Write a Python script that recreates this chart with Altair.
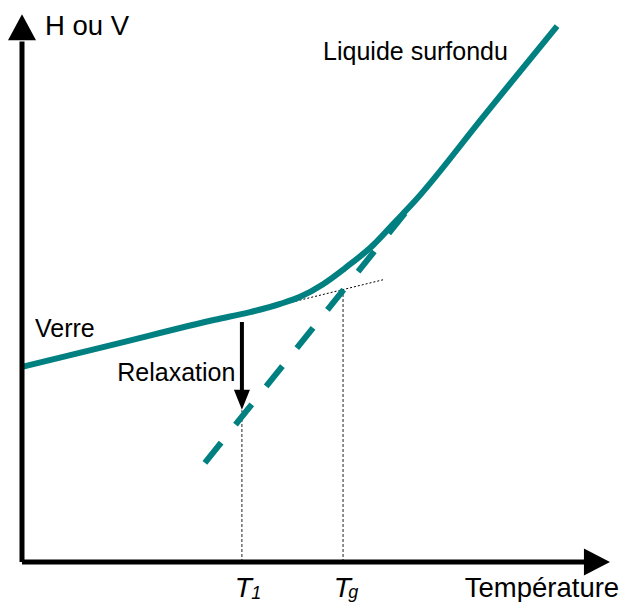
import altair as alt
import pandas as pd

# ---- data (T: temperature, H: enthalpy/volume, arbitrary units 0-100) ----
curve_T = [0.0, 16.4, 32.8, 38.8, 43.9, 47.3, 51.2, 54.9, 59.7, 63.4, 66.5, 78.7, 91.0]
curve_H = [35.6, 39.9, 44.2, 45.6, 47.1, 48.4, 50.7, 53.6, 57.8, 62.0, 65.5, 81.6, 97.8]

dash_T = [31.1, 66.5]
dash_H = [18.1, 65.5]

glass_ext_T = [43.9, 61.4]
glass_ext_H = [46.9, 51.5]

vline_T = [37.4, 54.6]
vline_H0 = [0.0, 0.0]
vline_H1 = [27.7, 49.3]

relax_T = [37.4]
relax_H0 = [43.8]
relax_H1 = [31.0]
relax_head_H = [29.6]

axis_y_T = [0.0]
axis_y_H = [0.0, 95.0]
axis_x_T = [0.0, 96.0]
axis_x_H = [0.0]
yhead_T, yhead_H = [0.0], [97.4]
xhead_T, xhead_H = [97.7], [0.0]

ann_text = ["Liquide surfondu", "Verre", "Relaxation"]
ann_T = [51.2, 2.2, 16.2]
ann_H = [91.6, 41.1, 33.0]

axis_text = ["H ou V", "Température"]
axis_text_T = [3.9, 75.3]
axis_text_H = [96.2, -6.4]

tick_main = ["T", "T"]
tick_main_T = [36.2, 53.0]
tick_main_H = [-6.4, -6.4]
tick_sub = ["1", "g"]
tick_sub_T = [39.0, 55.5]
tick_sub_H = [-6.75, -6.6]

TEAL = "#008080"
FONT = "Liberation Sans"

xs = alt.Scale(domain=[0, 100], nice=False, zero=False)
ys = alt.Scale(domain=[0, 100], nice=False, zero=False)

def X(f="T"):
    return alt.X(f"{f}:Q", scale=xs, axis=None)

def Y(f="H"):
    return alt.Y(f"{f}:Q", scale=ys, axis=None)

curve_df = pd.DataFrame({"T": curve_T, "H": curve_H, "o": range(len(curve_T))})
dash_df = pd.DataFrame({"T": dash_T, "H": dash_H})
gext_df = pd.DataFrame({"T": glass_ext_T, "H": glass_ext_H})
vline_df = pd.DataFrame({"T": vline_T, "H": vline_H0, "H2": vline_H1})
relax_df = pd.DataFrame({"T": relax_T, "H": relax_H0, "H2": relax_H1})
relax_head_df = pd.DataFrame({"T": relax_T, "H": relax_head_H})
yaxis_df = pd.DataFrame({"T": axis_y_T, "H": [axis_y_H[0]], "H2": [axis_y_H[1]]})
xaxis_df = pd.DataFrame({"T": [axis_x_T[0]], "T2": [axis_x_T[1]], "H": axis_x_H})
yhead_df = pd.DataFrame({"T": yhead_T, "H": yhead_H})
xhead_df = pd.DataFrame({"T": xhead_T, "H": xhead_H})
ann_df = pd.DataFrame({"T": ann_T, "H": ann_H, "txt": ann_text})
axt_df = pd.DataFrame({"T": axis_text_T, "H": axis_text_H, "txt": axis_text})
tm_df = pd.DataFrame({"T": tick_main_T, "H": tick_main_H, "txt": tick_main})
ts_df = pd.DataFrame({"T": tick_sub_T, "H": tick_sub_H, "txt": tick_sub})

vlines = alt.Chart(vline_df).mark_rule(color="#222222", strokeWidth=1, strokeDash=[3, 2]).encode(
    x=X(), y=Y(), y2="H2:Q")
gext = alt.Chart(gext_df).mark_line(color="black", strokeWidth=1, strokeDash=[2, 2]).encode(
    x=X(), y=Y())
dashed = alt.Chart(dash_df).mark_line(color=TEAL, strokeWidth=6, strokeDash=[26, 23]).encode(
    x=X(), y=Y())
curve = alt.Chart(curve_df).mark_line(color=TEAL, strokeWidth=6, interpolate="monotone").encode(
    x=X(), y=Y(), order="o:Q")
relax = alt.Chart(relax_df).mark_rule(color="black", strokeWidth=4).encode(
    x=X(), y=Y(), y2="H2:Q")
relax_head = alt.Chart(relax_head_df).mark_point(
    shape="M-0.8,-1L0.8,-1L0,1Z", size=400, filled=True, color="black", opacity=1, strokeWidth=0
).encode(x=X(), y=Y())
yaxis = alt.Chart(yaxis_df).mark_rule(color="black", strokeWidth=5).encode(
    x=X(), y=Y(), y2="H2:Q")
xaxis = alt.Chart(xaxis_df).mark_rule(color="black", strokeWidth=5).encode(
    x=X(), x2="T2:Q", y=Y())
yhead = alt.Chart(yhead_df).mark_point(
    shape="M0,-1L1,0.86L-1,0.86Z", size=784, filled=True, color="black", opacity=1, strokeWidth=0
).encode(x=X(), y=Y())
xhead = alt.Chart(xhead_df).mark_point(
    shape="M1,0L-0.93,-1L-0.93,1Z", size=729, filled=True, color="black", opacity=1, strokeWidth=0
).encode(x=X(), y=Y())

ann = alt.Chart(ann_df).mark_text(font=FONT, fontSize=25, align="left", baseline="alphabetic",
                                  color="black").encode(x=X(), y=Y(), text="txt:N")
axt = alt.Chart(axt_df).mark_text(font=FONT, fontSize=27.5, align="left", baseline="alphabetic",
                                  color="black").encode(x=X(), y=Y(), text="txt:N")
tm = alt.Chart(tm_df).mark_text(font=FONT, fontSize=28, fontStyle="italic", align="left",
                                baseline="alphabetic", color="black").encode(x=X(), y=Y(), text="txt:N")
ts = alt.Chart(ts_df).mark_text(font=FONT, fontSize=18, fontStyle="italic", align="left",
                                baseline="alphabetic", color="black").encode(x=X(), y=Y(), text="txt:N")

chart = alt.layer(
    vlines, gext, dashed, curve, relax, relax_head, yaxis, xaxis, yhead, xhead, ann, axt, tm, ts
).properties(
    width=588, height=548,
    autosize=alt.AutoSizeParams(type="none"),
    padding={"left": 14, "top": 6, "right": 14, "bottom": 40},
).configure_view(stroke=None)

chart.save("out.html", embed_options={"renderer": "svg", "actions": False})
